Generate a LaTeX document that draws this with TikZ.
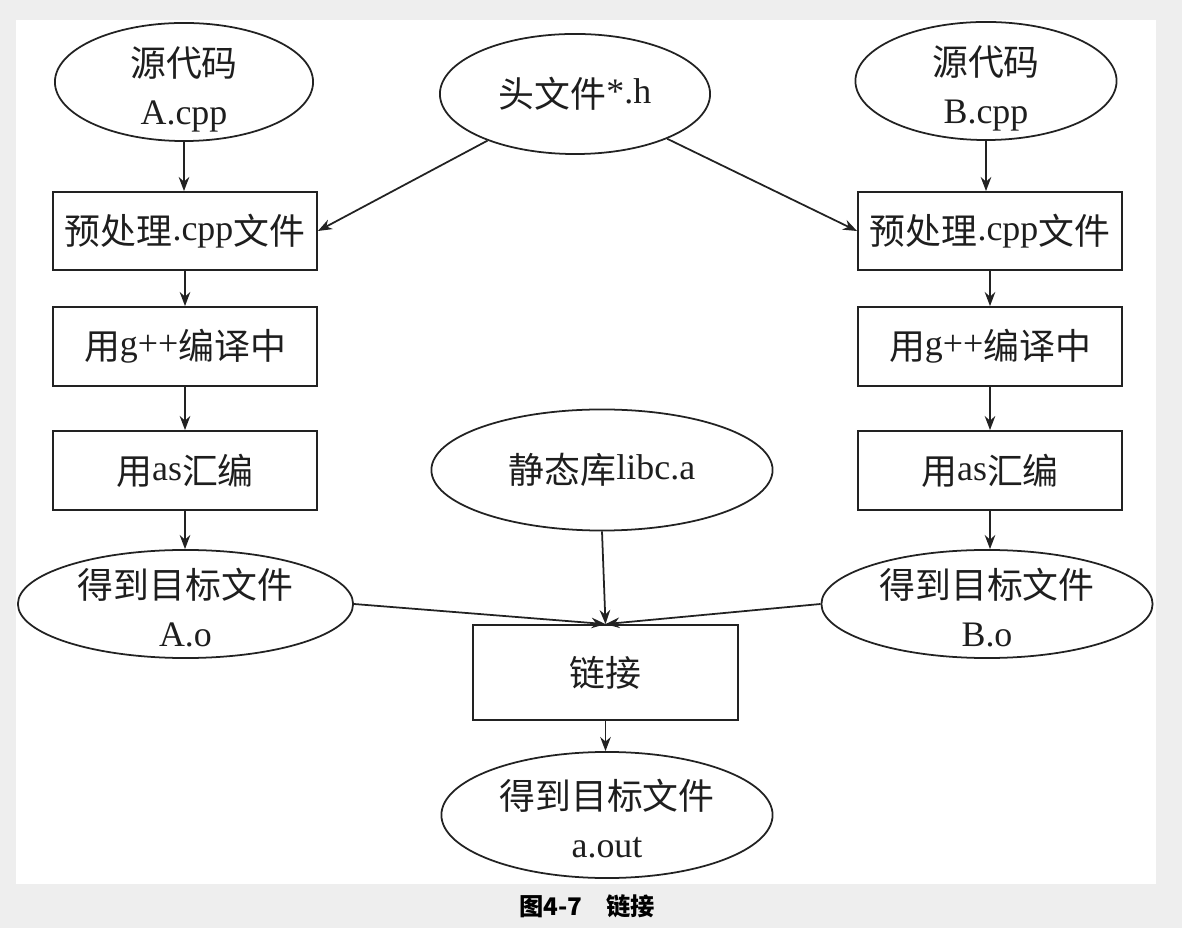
\documentclass[tikz,border=0pt]{standalone}
\usepackage{fontspec}
\setmainfont{Liberation Serif}
\newfontfamily\cjk{Noto Sans CJK SC}
\usetikzlibrary{shapes.geometric,arrows.meta}
\newcommand\zh[1]{\raisebox{-1.1pt}{\cjk #1}}
\newcommand\mainsize{\fontsize{10.2pt}{14.6pt}\selectfont}
\newcommand\twolines[2]{\raisebox{-4.3pt}[0pt][0pt]{\begin{tabular}{@{}c@{}}#1\\#2\end{tabular}}}
\definecolor{bggray}{HTML}{EEEEEE}
\definecolor{linec}{HTML}{222222}
\definecolor{txtc}{HTML}{1E1E1E}
\begin{document}
\begin{tikzpicture}[x=0.01cm,y=-0.01cm,
  ell/.style={draw=linec, line width=0.5pt, ellipse, inner sep=0pt, align=center, font=\mainsize, text=txtc},
  stepbox/.style={draw=linec, line width=0.5pt, rectangle, inner sep=0pt, align=center, font=\mainsize, text=txtc},
  arr/.style={-{Stealth[length=4pt,width=3pt]}, draw=linec, line width=0.5pt}]
\useasboundingbox (0,0) rectangle (1182,928);
\fill[bggray] (0,0) rectangle (1182,928);
\fill[white] (16,20) rectangle (1156,884);
% left column
\node[ell, minimum width=2.58cm, minimum height=1.18cm] (srcA) at (184,82) {\twolines{\zh{源代码}}{A.cpp}};
\node[stepbox, minimum width=2.64cm, minimum height=0.78cm] (preA) at (185,231) {\zh{预处理}.cpp\zh{文件}};
\node[stepbox, minimum width=2.64cm, minimum height=0.79cm] (gccA) at (185,346.5) {\zh{用}g++\zh{编译中}};
\node[stepbox, minimum width=2.64cm, minimum height=0.79cm] (asA) at (185,470.5) {\zh{用}as\zh{汇编}};
\node[ell, minimum width=3.35cm, minimum height=1.08cm] (objA) at (185.5,604) {\twolines{\zh{得到目标文件}}{A.o}};
% right column
\node[ell, minimum width=2.61cm, minimum height=1.18cm] (srcB) at (986,81) {\twolines{\zh{源代码}}{B.cpp}};
\node[stepbox, minimum width=2.64cm, minimum height=0.78cm] (preB) at (990,231) {\zh{预处理}.cpp\zh{文件}};
\node[stepbox, minimum width=2.64cm, minimum height=0.79cm] (gccB) at (990,346.5) {\zh{用}g++\zh{编译中}};
\node[stepbox, minimum width=2.64cm, minimum height=0.79cm] (asB) at (990,470.5) {\zh{用}as\zh{汇编}};
\node[ell, minimum width=3.31cm, minimum height=1.08cm] (objB) at (987,604) {\twolines{\zh{得到目标文件}}{B.o}};
% centre
\node[ell, minimum width=2.70cm, minimum height=1.20cm] (hdr) at (575,94) {\zh{头文件}*.h};
\node[ell, minimum width=3.41cm, minimum height=1.21cm] (lib) at (602,470) {\zh{静态库}libc.a};
\node[stepbox, minimum width=2.65cm, minimum height=0.95cm] (link) at (605.5,672.5) {\zh{链接}};
\node[ell, minimum width=3.31cm, minimum height=1.26cm] (out) at (607,815) {\twolines{\zh{得到目标文件}}{a.out}};
% caption
\node[font={\cjk\bfseries\fontsize{6.9pt}{8pt}\selectfont}, text=black, inner sep=0pt] (cap) at (587,906) {图4-7\quad 链接};
% connectors
\draw[arr] (srcA.south) -- (srcA.south |- preA.north);
\draw[arr] (preA) -- (gccA);
\draw[arr] (gccA) -- (asA);
\draw[arr] (asA.south) -- (asA.south |- objA.north);
\draw[arr] (srcB.south) -- (srcB.south |- preB.north);
\draw[arr] (preB.south) -- (preB.south |- gccB.north);
\draw[arr] (gccB.south) -- (gccB.south |- asB.north);
\draw[arr] (asB.south) -- (asB.south |- objB.north);
\draw[arr] (hdr) -- (preA.east);
\draw[arr] (hdr) -- (preB.west);
\draw[arr] (objA.east) -- (link.north);
\draw[arr] (objB.west) -- (link.north);
\draw[arr] (lib.south) -- (link.north);
\draw[arr] (link.south) -- (link.south |- out.north);
\end{tikzpicture}
\end{document}
